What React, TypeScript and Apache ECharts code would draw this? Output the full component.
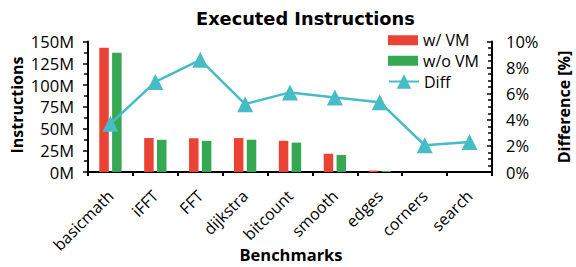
import React, { useEffect, useRef } from "react";
import * as echarts from "echarts";

const categories = ["basicmath", "iFFT", "FFT", "dijkstra", "bitcount", "smooth", "edges", "corners", "search"];
const withVM = [142.8, 39, 38.8, 39, 35.8, 21, 1.6, 0, 0];
const withoutVM = [137, 37, 35.8, 37, 33.8, 19.5, 1.2, 0, 0];
const diffPct = [3.7, 6.9, 8.6, 5.2, 6.1, 5.7, 5.35, 2.05, 2.3];
const seriesNames = ["w/ VM", "w/o VM", "Diff"];

const FONT = "Open Sans";

export default function App() {
  const ref = useRef<HTMLDivElement>(null);
  useEffect(() => {
    document.body.style.margin = "0";
    const chart = echarts.init(ref.current!, null, { renderer: "svg" });
    chart.setOption({
      animation: false,
      textStyle: { fontFamily: FONT, color: "#000" },
      title: {
        text: "Executed Instructions",
        left: 196,
        top: 6,
        padding: 0,
        textStyle: { fontFamily: "DejaVu Sans", fontSize: 17.8, fontWeight: "bold", color: "#000", lineHeight: 24 },
      },
      legend: [
        {
          data: [seriesNames[0], seriesNames[1]],
          orient: "vertical",
          left: 388,
          top: 30,
          padding: 0,
          icon: "rect",
          itemWidth: 30,
          itemHeight: 10,
          itemGap: 0,
          textStyle: { fontFamily: FONT, fontSize: 16, color: "#000", lineHeight: 20.5 },
        },
        {
          data: [seriesNames[2]],
          orient: "vertical",
          left: 388,
          top: 71.5,
          padding: 0,
          itemWidth: 30,
          itemHeight: 18,
          itemGap: 0,
          textStyle: { fontFamily: FONT, fontSize: 16, color: "#000", lineHeight: 20 },
        },
      ],
      grid: { left: 88, right: 84, top: 41.5, bottom: 95, containLabel: false },
      xAxis: {
        type: "category",
        data: categories,
        boundaryGap: true,
        axisLine: { lineStyle: { color: "#000", width: 2 } },
        axisTick: { show: true, length: 4, lineStyle: { color: "#000", width: 2 } },
        axisLabel: { interval: 0, rotate: 45, fontSize: 16, color: "#000", fontFamily: FONT, margin: 21 },
      },
      yAxis: [
        {
          type: "value",
          min: 0,
          max: 150,
          interval: 25,
          splitLine: { show: false },
          axisLine: { show: true, lineStyle: { color: "#000", width: 2 } },
          axisTick: { show: true, length: 5, lineStyle: { color: "#000", width: 1.5 } },
          minorTick: { show: true, splitNumber: 2, length: 4, lineStyle: { color: "#000", width: 1.5 } },
          axisLabel: { formatter: "{value}M", fontSize: 16.5, color: "#000", fontFamily: FONT, margin: 14 },
        },
        {
          type: "value",
          min: 0,
          max: 10,
          interval: 2,
          splitLine: { show: false },
          axisLine: { show: true, lineStyle: { color: "#000", width: 2 } },
          axisTick: { show: true, inside: true, length: 5, lineStyle: { color: "#000", width: 1.5 } },
          minorTick: { show: true, splitNumber: 4, length: 4, lineStyle: { color: "#000", width: 1.5 } },
          axisLabel: { formatter: "{value}%", fontSize: 16.5, color: "#000", fontFamily: FONT, margin: 14 },
        },
      ],
      graphic: [
        {
          type: "text",
          x: 17,
          y: 105,
          rotation: Math.PI / 2,
          style: { text: "Instructions", fontFamily: FONT, fontSize: 16, fontWeight: "bold", fill: "#000", align: "center", verticalAlign: "middle" },
        },
        {
          type: "text",
          x: 564,
          y: 107,
          rotation: Math.PI / 2,
          style: { text: "Difference [%]", fontFamily: FONT, fontSize: 16, fontWeight: "bold", fill: "#000", align: "center", verticalAlign: "middle" },
        },
        {
          type: "text",
          x: 291,
          y: 254,
          style: { text: "Benchmarks", fontFamily: FONT, fontSize: 16.5, fontWeight: "bold", fill: "#000", align: "center", verticalAlign: "middle" },
        },
      ],
      series: [
        {
          name: seriesNames[0],
          type: "bar",
          data: withVM,
          barWidth: 9.5,
          barGap: "35%",
          itemStyle: { color: "#EA4335" },
        },
        {
          name: seriesNames[1],
          type: "bar",
          data: withoutVM,
          barWidth: 9.5,
          itemStyle: { color: "#34A853" },
        },
        {
          name: seriesNames[2],
          type: "line",
          yAxisIndex: 1,
          data: diffPct,
          symbol: "triangle",
          symbolSize: 16,
          itemStyle: { color: "#46BDC6" },
          lineStyle: { color: "#46BDC6", width: 2.5 },
        },
      ],
    });
    return () => chart.dispose();
  }, []);
  return <div ref={ref} style={{ width: 576, height: 267 }} />;
}
